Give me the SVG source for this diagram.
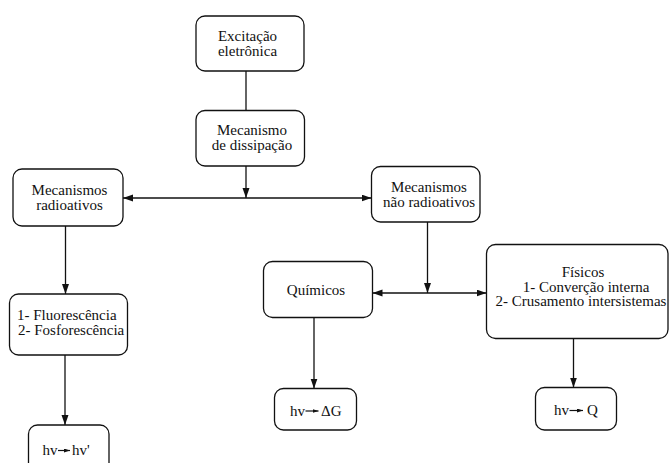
<svg xmlns="http://www.w3.org/2000/svg" width="669" height="463" viewBox="0 0 669 463">
<defs>
<marker id="ah" markerUnits="userSpaceOnUse" markerWidth="11" markerHeight="8" refX="10" refY="3.5" orient="auto-start-reverse"><path d="M0,0 L10,3.5 L0,7 z" fill="#111"/></marker>
<marker id="sm" markerUnits="userSpaceOnUse" markerWidth="7" markerHeight="5" refX="6" refY="2" orient="auto"><path d="M0,0 L6,2 L0,4 z" fill="#111"/></marker>
<style>
rect{fill:#fff;stroke:#111;stroke-width:1.3}
text{font-family:'Liberation Serif','Times New Roman',Times,Tinos,'Noto Serif','DejaVu Serif',FreeSerif,serif;font-size:15px;fill:#111}
.m{text-anchor:middle}
.c{stroke:#111;stroke-width:1.3;fill:none}
.a{marker-end:url(#ah)}
.b{marker-start:url(#ah);marker-end:url(#ah)}
.i{stroke:#111;stroke-width:1.2;marker-end:url(#sm)}
</style>
</defs>
<g id="connectors">
<line class="c" x1="246" y1="71" x2="246" y2="110.5"/>
<line class="c a" x1="246" y1="166" x2="246" y2="198"/>
<line class="c b" x1="123" y1="198" x2="371.5" y2="198"/>
<line class="c a" x1="65.5" y1="226" x2="65.5" y2="294"/>
<line class="c a" x1="65" y1="355" x2="65" y2="425"/>
<line class="c a" x1="427.5" y1="222" x2="427.5" y2="293"/>
<line class="c b" x1="372.5" y1="293" x2="486.5" y2="293"/>
<line class="c a" x1="314" y1="317.5" x2="314" y2="388.5"/>
<line class="c a" x1="573.5" y1="338.5" x2="573.5" y2="387.5"/>
</g>
<g id="excitacao">
<rect x="196" y="16" width="108" height="55" rx="9"/>
<text class="m" x="247.5" y="40.7">Excitação</text>
<text class="m" x="247.5" y="55.7">eletrônica</text>
</g>
<g id="dissipacao">
<rect x="196" y="110.5" width="108.5" height="55.5" rx="9"/>
<text class="m" x="252" y="134.5">Mecanismo</text>
<text class="m" x="252" y="150">de dissipação</text>
</g>
<g id="radioativos">
<rect x="13" y="169" width="110" height="57" rx="9"/>
<text class="m" x="69.5" y="194.7">Mecanismos</text>
<text class="m" x="69.5" y="209.7">radioativos</text>
</g>
<g id="nao-radioativos">
<rect x="371.5" y="166.5" width="108.5" height="55.5" rx="9"/>
<text class="m" x="429" y="191.7">Mecanismos</text>
<text class="m" x="429" y="206.9">não radioativos</text>
</g>
<g id="fluorescencia">
<rect x="9.5" y="294" width="118" height="61" rx="9"/>
<text x="17" y="319.5">1- Fluorescência</text>
<text x="18" y="335">2- Fosforescência</text>
</g>
<g id="quimicos">
<rect x="263.5" y="261.5" width="109" height="56" rx="9"/>
<text class="m" x="316" y="294.5">Químicos</text>
</g>
<g id="fisicos">
<rect x="486.5" y="244.5" width="181.5" height="94" rx="9"/>
<text class="m" x="583" y="276.5">Físicos</text>
<text class="m" x="586" y="291.5">1- Converção interna</text>
<text class="m" x="581" y="306">2- Crusamento intersistemas</text>
</g>
<g id="hv-hv">
<rect x="28.5" y="425" width="80.5" height="50" rx="9"/>
<text x="42.5" y="455">hv</text>
<line class="i" x1="58" y1="450.5" x2="70" y2="450.5"/>
<text x="72" y="455">hv'</text>
</g>
<g id="hv-dg">
<rect x="274.5" y="388.5" width="82" height="41.5" rx="9"/>
<text x="290" y="415.5">hv</text>
<line class="i" x1="305.5" y1="411" x2="318.5" y2="411"/>
<text x="321" y="415.5">ΔG</text>
</g>
<g id="hv-q">
<rect x="535.5" y="387.5" width="81" height="42.5" rx="9"/>
<text x="554" y="415">hv</text>
<line class="i" x1="569.5" y1="410.5" x2="583" y2="410.5"/>
<text x="587" y="415">Q</text>
</g>
</svg>
